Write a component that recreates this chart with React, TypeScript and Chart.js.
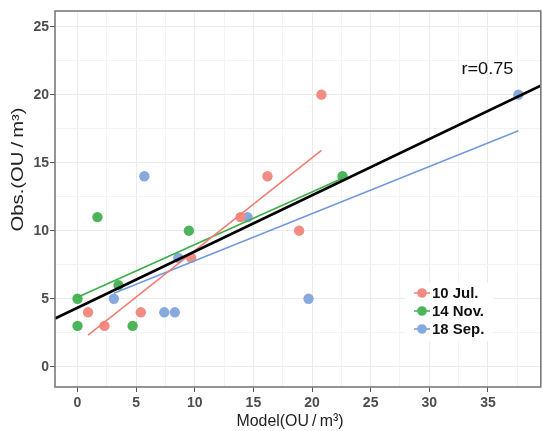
import React, { useEffect, useRef } from "react";
import { Chart, registerables } from "chart.js";

Chart.register(...registerables);

// ---- data ----
const julX = [0.9, 2.3, 5.4, 9.7, 13.9, 16.2, 18.9, 20.8];
const julY = [4, 3, 4, 8, 11, 14, 10, 20];
const novX = [0, 0, 1.7, 3.5, 4.7, 9.5, 22.6];
const novY = [5, 3, 11, 6, 3, 10, 14];
const sepX = [3.1, 5.7, 7.4, 8.3, 8.6, 14.5, 19.7, 37.6];
const sepY = [5, 14, 4, 4, 8, 11, 5, 20];

// fitted lines (endpoints)
const julFitX = [0.9, 20.8];
const julFitY = [2.33, 15.9];
const novFitX = [0, 22.6];
const novFitY = [5.1, 13.85];
const sepFitX = [3.1, 37.6];
const sepFitY = [5.4, 17.35];
const allFitX = [-1.92, 39.5];
const allFitY = [3.54, 20.66];

const seriesNames = ["10 Jul.", "14 Nov.", "18 Sep."];
const pointColors = ["#F28B82", "#4CB45A", "#88A9DD"];
const lineColors = ["#F27D72", "#3BAE4A", "#7399DB"];

const xTickLabels = [0, 5, 10, 15, 20, 25, 30, 35];
const yTickLabels = [0, 5, 10, 15, 20, 25];
const xTitle = "Model(OU\u2009/\u2009m³)";
const yTitle = "Obs.(OU\u2009/\u2009m³)";
const corrLabel = "r=0.75";
const corrPos = { x: 34.96, y: 21.82 };

const X_MIN = -1.92;
const X_MAX = 39.51;
const Y_MIN = -1.49;
const Y_MAX = 26.15;

const FONT = "'Liberation Sans', Arial, sans-serif";

const zip = (xs: number[], ys: number[]) => xs.map((x, i) => ({ x, y: ys[i] }));

const withMinor = (major: number[]) => {
  const out: number[] = [];
  major.forEach((v) => {
    out.push(v - 2.5, v);
  });
  out.push(major[major.length - 1] + 2.5);
  return out;
};

const isMajor = (v: number, major: number[]) => major.some((m) => Math.abs(m - v) < 1e-6);

export default function App() {
  const ref = useRef<HTMLCanvasElement | null>(null);

  useEffect(() => {
    document.body.style.margin = "0";
    document.body.style.overflow = "hidden";
    const canvas = ref.current;
    if (!canvas) return;

    const stretchedText = (ctx: any, text: string, cx: number, cy: number, rot: number, targetW: number) => {
      ctx.save();
      ctx.translate(cx, cy);
      ctx.rotate(rot);
      const w = ctx.measureText(text).width;
      ctx.scale(targetW / w, 1);
      ctx.textAlign = "center";
      ctx.textBaseline = "middle";
      ctx.fillText(text, 0, 0);
      ctx.restore();
    };

    const overlay = {
      id: "overlay",
      afterDatasetsDraw(chart: any) {
        const { ctx, chartArea, scales } = chart;
        ctx.save();
        // panel border
        ctx.strokeStyle = "#7A7A7A";
        ctx.lineWidth = 1.6;
        ctx.strokeRect(chartArea.left, chartArea.top, chartArea.right - chartArea.left, chartArea.bottom - chartArea.top);

        // axis titles
        ctx.fillStyle = "#222";
        ctx.font = `17px ${FONT}`;
        stretchedText(ctx, xTitle, 290, 421, 0, 107);
        ctx.font = `16px ${FONT}`;
        stretchedText(ctx, yTitle, 19, 169.5, -Math.PI / 2, 124);

        // r label
        ctx.fillStyle = "#111";
        ctx.font = `16.5px ${FONT}`;
        stretchedText(
          ctx,
          corrLabel,
          scales.x.getPixelForValue(corrPos.x),
          scales.y.getPixelForValue(corrPos.y),
          0,
          52
        );

        // legend
        ctx.fillStyle = "#FFFFFF";
        ctx.fillRect(405, 283, 88, 58);
        ctx.font = `bold 14.5px ${FONT}`;
        ctx.textAlign = "left";
        ctx.textBaseline = "middle";
        seriesNames.forEach((name, i) => {
          const cy = 293 + i * 18;
          ctx.strokeStyle = lineColors[i];
          ctx.lineWidth = 1.5;
          ctx.beginPath();
          ctx.moveTo(414, cy);
          ctx.lineTo(430, cy);
          ctx.stroke();
          ctx.fillStyle = pointColors[i];
          ctx.beginPath();
          ctx.arc(422, cy, 4.8, 0, Math.PI * 2);
          ctx.fill();
          ctx.fillStyle = "#111";
          ctx.save();
          ctx.translate(432, cy + 1);
          ctx.scale(1.03, 1);
          ctx.fillText(name, 0, 0);
          ctx.restore();
        });
        ctx.restore();
      },
    };

    const lineDs = (label: string, xs: number[], ys: number[], color: string, width: number) => ({
      label,
      data: zip(xs, ys),
      showLine: true,
      borderColor: color,
      backgroundColor: color,
      borderWidth: width,
      pointRadius: 0,
      pointHoverRadius: 0,
    });
    const pointDs = (label: string, xs: number[], ys: number[], color: string) => ({
      label,
      data: zip(xs, ys),
      showLine: false,
      backgroundColor: color,
      borderColor: color,
      borderWidth: 0,
      pointRadius: 5.2,
    });

    const chart = new Chart(canvas, {
      type: "scatter",
      data: {
        datasets: [
          lineDs("all", allFitX, allFitY, "#000000", 2.8),
          lineDs(seriesNames[0] + " fit", julFitX, julFitY, lineColors[0], 1.6),
          lineDs(seriesNames[1] + " fit", novFitX, novFitY, lineColors[1], 1.6),
          lineDs(seriesNames[2] + " fit", sepFitX, sepFitY, lineColors[2], 1.6),
          pointDs(seriesNames[0], julX, julY, pointColors[0]),
          pointDs(seriesNames[1], novX, novY, pointColors[1]),
          pointDs(seriesNames[2], sepX, sepY, pointColors[2]),
        ] as any,
      },
      options: {
        animation: false,
        responsive: true,
        maintainAspectRatio: false,
        layout: { padding: { top: 11, left: 0, right: 0, bottom: 0 } },
        plugins: { legend: { display: false }, tooltip: { enabled: false } },
        scales: {
          x: {
            type: "linear",
            min: X_MIN,
            max: X_MAX,
            afterBuildTicks: (scale: any) => {
              scale.ticks = withMinor(xTickLabels)
                .filter((v) => v >= X_MIN && v <= X_MAX)
                .map((v) => ({ value: v }));
            },
            afterFit: (scale: any) => {
              scale.height = 44;
            },
            grid: {
              color: (c: any) => (isMajor(c.tick?.value, xTickLabels) ? "#EBEBEB" : "#F3F3F3"),
              tickColor: (c: any) => (isMajor(c.tick?.value, xTickLabels) ? "#555" : "rgba(0,0,0,0)"),
              tickLength: 5,
              lineWidth: 1,
            },
            border: { display: false },
            ticks: {
              autoSkip: false,
              maxRotation: 0,
              padding: 3,
              color: "#4D4D4D",
              font: { family: FONT, size: 14, weight: "bold" },
              callback: (v: any) => (isMajor(Number(v), xTickLabels) ? String(v) : ""),
            },
            title: { display: false },
          },
          y: {
            type: "linear",
            min: Y_MIN,
            max: Y_MAX,
            afterBuildTicks: (scale: any) => {
              scale.ticks = withMinor(yTickLabels)
                .filter((v) => v >= Y_MIN && v <= Y_MAX)
                .map((v) => ({ value: v }));
            },
            afterFit: (scale: any) => {
              scale.width = 55;
            },
            grid: {
              color: (c: any) => (isMajor(c.tick?.value, yTickLabels) ? "#EBEBEB" : "#F3F3F3"),
              tickColor: (c: any) => (isMajor(c.tick?.value, yTickLabels) ? "#555" : "rgba(0,0,0,0)"),
              tickLength: 5,
              lineWidth: 1,
            },
            border: { display: false },
            ticks: {
              autoSkip: false,
              padding: 1,
              color: "#4D4D4D",
              font: { family: FONT, size: 14, weight: "bold" },
              callback: (v: any) => (isMajor(Number(v), yTickLabels) ? String(v) : ""),
            },
            title: { display: false },
          },
        },
      },
      plugins: [overlay],
    });

    return () => chart.destroy();
  }, []);

  return (
    <div style={{ position: "fixed", left: 0, top: 0, width: 546, height: 431, background: "#fff" }}>
      <canvas ref={ref} />
    </div>
  );
}
